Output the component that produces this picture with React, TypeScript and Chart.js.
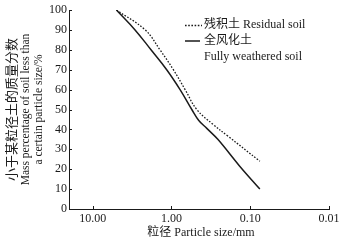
import React, { useEffect, useRef } from "react";
import { Chart, registerables } from "chart.js";

Chart.register(...registerables);

// Data
const residualSizes = [5, 2.16, 1.4, 0.946, 0.671, 0.477, 0.296, 0.193, 0.0755];
const residualPct = [100, 90, 80, 70, 60, 50, 42.5, 36.7, 24];

const weatheredSizes = [5, 2.9, 1.82, 1.15, 0.778, 0.552, 0.45, 0.356, 0.258, 0.136, 0.0755];
const weatheredPct = [100, 90, 80, 70, 60, 50, 44.5, 40.5, 35, 21.5, 10];

const xTicks = [10, 1, 0.1, 0.01];
const yTitleLines = ["小于某粒径土的质量分数", "Mass percentage of soil less than", "a certain particle size/%"];
const xTitle = "粒径 Particle size/mm";
const legendResidual = "残积土 Residual soil";
const legendWeathered = ["全风化土", "Fully weathered soil"];

const FONT = "'Liberation Serif', 'Noto Sans CJK SC', serif";
const INK = "#1a1a1a";

const decorPlugin = {
  id: "decor",
  afterDraw(chart: any) {
    const ctx = chart.ctx as CanvasRenderingContext2D;
    const xs = chart.scales.x;
    const ys = chart.scales.y;
    const area = chart.chartArea;
    ctx.save();
    // inward tick marks
    ctx.strokeStyle = INK;
    ctx.lineWidth = 1;
    ctx.beginPath();
    xTicks.forEach((v) => {
      const px = Math.round(xs.getPixelForValue(v)) + 0.5;
      ctx.moveTo(px, area.bottom);
      ctx.lineTo(px, area.bottom - 3);
    });
    for (let v = 0; v <= 100; v += 10) {
      const py = Math.round(ys.getPixelForValue(v)) + 0.5;
      ctx.moveTo(area.left, py);
      ctx.lineTo(area.left + 3, py);
    }
    ctx.stroke();

    ctx.fillStyle = INK;
    // y title (rotated, 3 lines)
    const cy = (area.top + area.bottom) / 2;
    const lineX = [13, 26, 39];
    const fonts = [`13px ${FONT}`, `11.5px ${FONT}`, `11.5px ${FONT}`];
    yTitleLines.forEach((t, i) => {
      ctx.save();
      ctx.translate(lineX[i], cy);
      ctx.rotate(-Math.PI / 2);
      ctx.font = fonts[i];
      ctx.textAlign = "center";
      ctx.textBaseline = "middle";
      ctx.fillText(t, 0, 0);
      ctx.restore();
    });

    // x title
    ctx.font = `12px ${FONT}`;
    ctx.textAlign = "center";
    ctx.textBaseline = "middle";
    ctx.fillText(xTitle, (area.left + area.right) / 2 + 2, 233);

    // legend
    const ds0 = chart.data.datasets[0];
    const ds1 = chart.data.datasets[1];
    ctx.lineWidth = ds0.borderWidth;
    ctx.strokeStyle = ds0.borderColor;
    ctx.setLineDash(ds0.borderDash);
    ctx.beginPath();
    ctx.moveTo(185, 25.5);
    ctx.lineTo(202, 25.5);
    ctx.stroke();
    ctx.setLineDash([]);
    ctx.lineWidth = ds1.borderWidth;
    ctx.strokeStyle = ds1.borderColor;
    ctx.beginPath();
    ctx.moveTo(185, 41);
    ctx.lineTo(200, 41);
    ctx.stroke();

    ctx.font = `12px ${FONT}`;
    ctx.textAlign = "left";
    ctx.textBaseline = "middle";
    ctx.fillText(legendResidual, 204, 25);
    ctx.fillText(legendWeathered[0], 204, 41);
    ctx.fillText(legendWeathered[1], 204, 57);
    ctx.restore();
  },
};

export default function App() {
  const ref = useRef<HTMLCanvasElement | null>(null);
  useEffect(() => {
    document.body.style.margin = "0";
    const canvas = ref.current;
    if (!canvas) return;
    const chart = new Chart(canvas, {
      type: "line",
      data: {
        datasets: [
          {
            label: legendResidual,
            data: residualSizes.map((x, i) => ({ x, y: residualPct[i] })),
            borderColor: INK,
            borderWidth: 1.3,
            borderDash: [1.6, 1.6],
            pointRadius: 0,
            tension: 0.4,
            fill: false,
          },
          {
            label: legendWeathered.join(" "),
            data: weatheredSizes.map((x, i) => ({ x, y: weatheredPct[i] })),
            borderColor: INK,
            borderWidth: 1.5,
            pointRadius: 0,
            tension: 0.4,
            fill: false,
          },
        ],
      },
      options: {
        animation: false,
        responsive: false,
        maintainAspectRatio: false,
        layout: { padding: { top: 10, right: 20, left: 0, bottom: 0 } },
        plugins: { legend: { display: false }, tooltip: { enabled: false } },
        scales: {
          x: {
            type: "logarithmic",
            reverse: true,
            min: 0.01,
            max: 20,
            grid: { display: false, drawTicks: false },
            border: { display: true, color: INK, width: 1 },
            afterBuildTicks: (scale: any) => {
              scale.ticks = xTicks.map((v) => ({ value: v }));
            },
            afterFit: (scale: any) => {
              scale.height = 35;
            },
            ticks: {
              autoSkip: false,
              maxRotation: 0,
              padding: 3,
              color: INK,
              font: { family: FONT, size: 12 },
              callback: (v: any) => Number(v).toFixed(2),
            },
          },
          y: {
            min: 0,
            max: 100,
            grid: { display: false, drawTicks: false },
            border: { display: true, color: INK, width: 1 },
            afterFit: (scale: any) => {
              scale.width = 69;
            },
            ticks: {
              stepSize: 10,
              padding: 2,
              color: INK,
              font: { family: FONT, size: 12 },
            },
          },
        },
      },
      plugins: [decorPlugin],
    } as any);
    return () => chart.destroy();
  }, []);
  return (
    <div style={{ width: 349, height: 244, background: "#fff" }}>
      <canvas ref={ref} width={349} height={244} style={{ display: "block" }} />
    </div>
  );
}
